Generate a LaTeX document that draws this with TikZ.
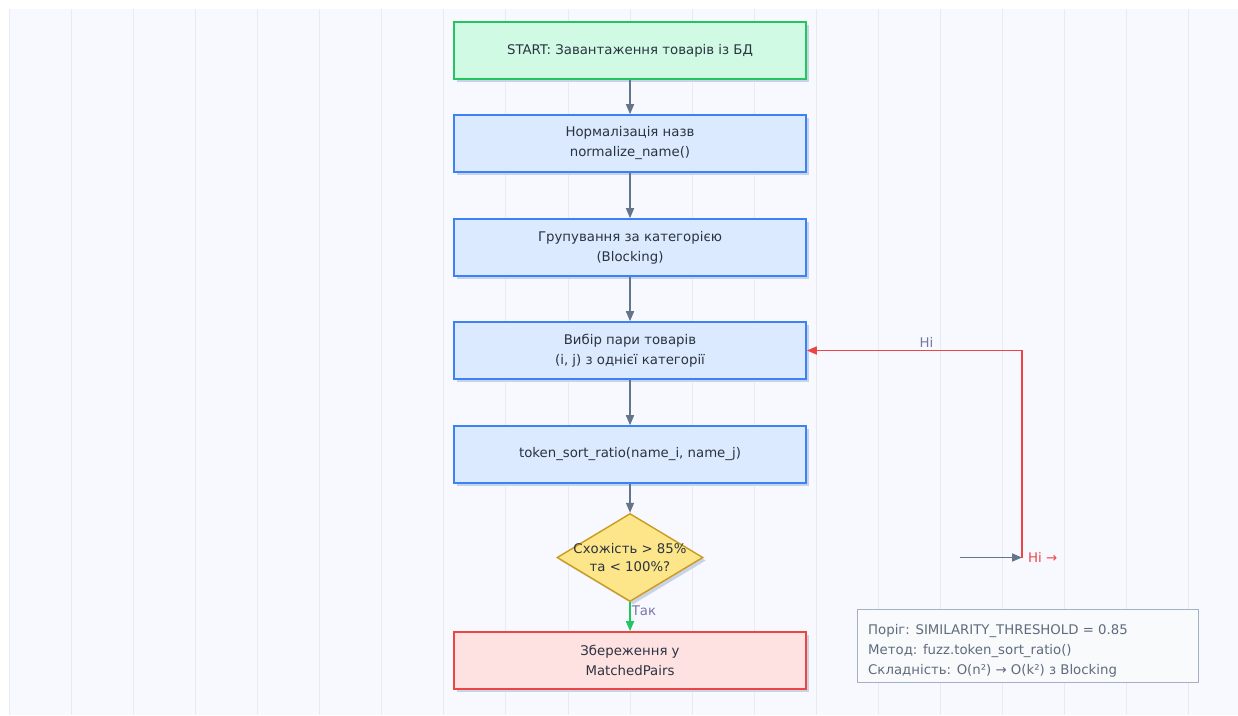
\documentclass[tikz,border=0pt]{standalone}
\usepackage{fontspec}
\setmainfont{DejaVu Sans}
\usetikzlibrary{arrows.meta,shapes.geometric,shadows}

\definecolor{bgc}{HTML}{F8F9FE}
\definecolor{gridc}{HTML}{E9EBF3}
\definecolor{shadowc}{HTML}{C9D3E8}
\definecolor{txtc}{HTML}{2B3340}
\definecolor{startfill}{HTML}{D1FAE5}
\definecolor{startdraw}{HTML}{22C55E}
\definecolor{procfill}{HTML}{DBEAFE}
\definecolor{procdraw}{HTML}{3B82F6}
\definecolor{decfill}{HTML}{FDE68A}
\definecolor{decdraw}{HTML}{CC9A1C}
\definecolor{endfill}{HTML}{FEE2E2}
\definecolor{enddraw}{HTML}{EF4444}
\definecolor{edgec}{HTML}{64748B}
\definecolor{yesc}{HTML}{22C55E}
\definecolor{noc}{HTML}{EF4444}
\definecolor{lblc}{HTML}{7676A6}
\definecolor{notefill}{HTML}{F8FAFC}
\definecolor{notedraw}{HTML}{A3B1C6}
\definecolor{notetxt}{HTML}{5F6B7D}

\tikzset{
  base/.style={font=\fontsize{13.3}{20}\selectfont, text=txtc, align=center,
    line width=1.6pt,
    drop shadow={shadow xshift=3pt, shadow yshift=-3pt, fill=shadowc, opacity=1}},
  box/.style={base, rectangle, minimum width=352pt, minimum height=57pt, inner sep=0pt},
  startbox/.style={box, fill=startfill, draw=startdraw},
  procbox/.style={box, fill=procfill, draw=procdraw},
  endbox/.style={box, fill=endfill, draw=enddraw},
  decbox/.style={base, diamond, fill=decfill, draw=decdraw, line width=1.4pt,
    minimum width=146pt, minimum height=88pt, inner sep=0pt},
  flow/.style={draw=edgec, line width=1.6pt, -{Triangle[length=10pt,width=8pt]}},
  yesflow/.style={flow, draw=yesc},
  noflow/.style={flow, draw=noc},
  elabel/.style={font=\fontsize{13.3}{15}\selectfont, text=lblc, inner sep=1pt},
  notebox/.style={rectangle, fill=notefill, draw=notedraw, line width=1pt,
    minimum width=341pt, minimum height=73pt, inner sep=0pt},
  notetext/.style={font=\fontsize{13.3}{20}\selectfont, text=notetxt, align=left, inner sep=0pt}
}

\begin{document}
\begin{tikzpicture}[x=1pt,y=-1pt]
  \useasboundingbox (0,0) rectangle (1238,715);
  % canvas and vertical guide lines
  \fill[white] (0,0) rectangle (1238,715);
  \fill[bgc] (9,9) rectangle (1238,715);
  \foreach \k in {0,...,19}
    \draw[gridc, line width=1pt] ({9.3+62.08*\k},9) -- ({9.3+62.08*\k},715);

  % main flow
  \node[startbox] (start) at (630,50.5) {START: Завантаження товарів із БД};
  \node[procbox] (norm) at (630,143.5) {Нормалізація назв\\normalize\_name()};
  \node[procbox] (group) at (630,247.5) {Групування за категорією\\(Blocking)};
  \node[procbox] (pick) at (630,350.5) {Вибір пари товарів\\(i, j) з однієї категорії};
  \node[procbox] (ratio) at (630,454.5) {token\_sort\_ratio(name\_i, name\_j)};
  \node[decbox] (dec) at (630,557.5) {};
  \node[font=\fontsize{13.3}{18}\selectfont, text=txtc, align=center, inner sep=0pt]
    (dectext) at (630,557.5) {Схожість > 85\%\\та < 100\%?};
  \node[endbox] (save) at (630,660.5) {Збереження у\\MatchedPairs};

  \draw[flow] (start) -- (norm);
  \draw[flow] (norm) -- (group);
  \draw[flow] (group) -- (pick);
  \draw[flow] (pick) -- (ratio);
  \draw[flow] (ratio) -- (dec.north);
  \draw[yesflow] (dec.south) -- node[elabel, anchor=west, pos=0.3] (yeslbl) {Так} (save);

  % "no" branch back to pair selection
  \coordinate (nofrom) at (960,557.5);
  \coordinate (nojoin) at (1022,557.5);
  \node[elabel, text=noc, anchor=west, inner sep=0pt] (notag) at (1028,557.5) {Ні →};
  \draw[flow] (nofrom) -- (nojoin);
  \draw[noflow] (nojoin) |- node[elabel, pos=0.722, anchor=south, yshift=1pt] (nolbl) {Ні} (pick.east);

  % legend note
  \node[notebox, anchor=north west] (note) at (857,609) {};
  \node[notetext, anchor=west] (notetxt) at (868,651)
    {Поріг: SIMILARITY\_THRESHOLD = 0.85\\Метод: fuzz.token\_sort\_ratio()\\Складність: O(n²) → O(k²) з Blocking};
\end{tikzpicture}
\end{document}
